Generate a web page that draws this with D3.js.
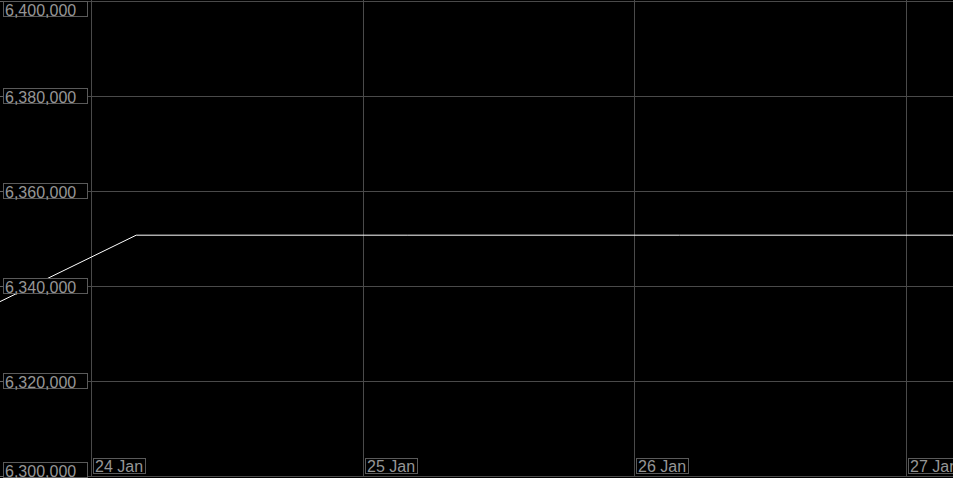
<!DOCTYPE html>
<html>
<head>
<meta charset="utf-8">
<script src="https://cdn.jsdelivr.net/npm/d3@7"></script>
<style>
  html, body { margin: 0; padding: 0; background: #000; overflow: hidden; }
</style>
</head>
<body>
<div id="chart"></div>
<script>
// Series values (date, value)
const dates = ["2020-01-23T04:00Z", "2020-01-24T04:00Z", "2020-01-25T04:00Z",
               "2020-01-26T04:00Z", "2020-01-27T04:00Z", "2020-01-28T04:00Z"];
const values = [6322800, 6350700, 6350700, 6350700, 6350700, 6350700];

// Axis ticks
const yTicks = [6300000, 6320000, 6340000, 6360000, 6380000, 6400000];
const xTicks = ["2020-01-24T00:00Z", "2020-01-25T00:00Z", "2020-01-26T00:00Z", "2020-01-27T00:00Z"];
const xTickLabels = ["24 Jan", "25 Jan", "26 Jan", "27 Jan"];

// Visible time window
const xDomain = ["2020-01-23T15:58Z", "2020-01-27T04:09Z"];

const width = 953;
const height = 478;

const data = dates.map((d, i) => ({ date: new Date(d), value: values[i] }));

const svg = d3.select("#chart")
  .append("svg")
  .attr("width", width)
  .attr("height", height)
  .style("display", "block")
  .style("font-family", "'Liberation Sans', Arial, sans-serif");

svg.append("rect")
  .attr("width", width)
  .attr("height", height)
  .attr("fill", "black");

const xScale = d3.scaleUtc()
  .domain(xDomain.map(d => new Date(d)))
  .range([0, width]);

const yScale = d3.scaleLinear()
  .domain([6300000, 6400000])
  .range([476, 1]);

// Horizontal grid lines
svg.selectAll(".hgrid")
  .data(yTicks)
  .enter()
  .append("line")
  .attr("class", "hgrid")
  .attr("x1", 0)
  .attr("x2", width)
  .attr("y1", d => Math.round(yScale(d)) + 0.5)
  .attr("y2", d => Math.round(yScale(d)) + 0.5)
  .attr("stroke", "#4a4a4a")
  .attr("stroke-width", 1);

// Vertical grid lines
svg.selectAll(".vgrid")
  .data(xTicks)
  .enter()
  .append("line")
  .attr("class", "vgrid")
  .attr("x1", d => Math.round(xScale(new Date(d))) + 0.5)
  .attr("x2", d => Math.round(xScale(new Date(d))) + 0.5)
  .attr("y1", 0)
  .attr("y2", 476)
  .attr("stroke", "#4a4a4a")
  .attr("stroke-width", 1);

// Data line
svg.append("clipPath")
  .attr("id", "clip")
  .append("rect")
  .attr("width", width)
  .attr("height", height);

const line = d3.line()
  .x(d => xScale(d.date))
  .y(d => yScale(d.value));

svg.append("path")
  .datum(data)
  .attr("clip-path", "url(#clip)")
  .attr("fill", "none")
  .attr("stroke", "white")
  .attr("stroke-width", 1)
  .attr("d", line);

// Y axis labels (boxed, drawn over the line)
const fmt = d3.format(",");
const boxH = 15;

yTicks.forEach(t => {
  const cy = Math.round(yScale(t));
  let top = cy - 8;
  if (top < 1) top = 1;
  if (top + boxH > height - 1) top = height - boxH - 1;

  svg.append("line")
    .attr("x1", 0)
    .attr("x2", 3)
    .attr("y1", cy + 0.5)
    .attr("y2", cy + 0.5)
    .attr("stroke", "#666");

  svg.append("rect")
    .attr("x", 3.5)
    .attr("y", top + 0.5)
    .attr("width", 84)
    .attr("height", boxH)
    .attr("fill", "black")
    .attr("stroke", "#5a5a5a")
    .attr("stroke-width", 1);

  svg.append("text")
    .attr("x", 5)
    .attr("y", top + boxH - 0.5)
    .attr("fill", "#969696")
    .attr("font-size", "16px")
    .text(fmt(t));
});

// X axis labels
xTicks.forEach((t, i) => {
  const x = Math.round(xScale(new Date(t)));
  const g = svg.append("g");
  const txt = g.append("text")
    .attr("x", x + 4)
    .attr("y", 472)
    .attr("fill", "#969696")
    .attr("font-size", "16px")
    .text(xTickLabels[i]);
  const w = txt.node().getComputedTextLength();
  g.insert("rect", "text")
    .attr("x", x + 2.5)
    .attr("y", 458.5)
    .attr("width", Math.round(w) + 4)
    .attr("height", 15)
    .attr("fill", "black")
    .attr("stroke", "#5a5a5a")
    .attr("stroke-width", 1);
});
</script>
</body>
</html>
